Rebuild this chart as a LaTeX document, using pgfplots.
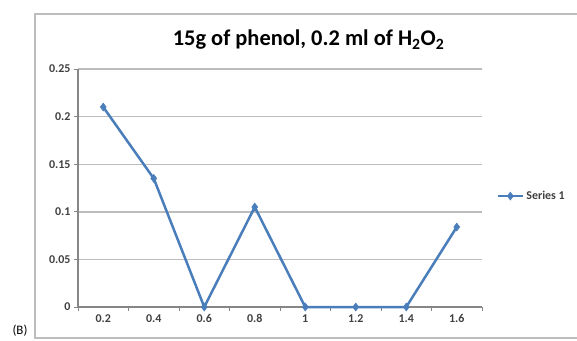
\documentclass[border=0pt]{standalone}
\usepackage{pgfplots}
\pgfplotsset{compat=1.18}
\usepackage{fontspec}
\setmainfont{Carlito}
\definecolor{serblue}{HTML}{4A7EBB}
\definecolor{gridgray}{HTML}{BDBDBD}
\definecolor{axgray}{HTML}{868686}
\begin{document}
\begin{tikzpicture}[x=1bp,y=1bp]
\useasboundingbox (0,0) rectangle (577,340);
\draw[gridgray, line width=1.4bp] (578,326) -- (35,326) -- (35,2) -- (578,2);
\node[font=\fontsize{13}{15}\selectfont] at (20,9) {(B)};
\node[font=\fontsize{22.5}{26}\selectfont\bfseries] at (308.5,300) {15g of phenol, 0.2 ml of H\textsubscript{2}O\textsubscript{2}};
\begin{axis}[
 at={(78bp,33bp)}, anchor=south west,
 width=404bp, height=238bp, scale only axis,
 xmin=-0.5, xmax=7.5, ymin=0, ymax=0.25,
 clip=false,
 axis lines=left, axis line style={-, axgray, line width=1.1bp},
 xtick={0,...,7}, xticklabels={0.2,0.4,0.6,0.8,1,1.2,1.4,1.6},
 major x tick style={draw=none},
 minor xtick={-0.5,0.5,...,7.5},
 minor tick length=4bp, major tick length=4bp,
 tick align=outside,
 tick style={axgray, line width=0.9bp},
 ytick={0,0.05,0.1,0.15,0.2,0.25},
 yticklabels={0,0.05,0.1,0.15,0.2,0.25},
 ymajorgrids, major grid style={gridgray, line width=1.4bp},
 tick label style={font=\fontsize{12}{14}\selectfont\bfseries, text=black!75},
 legend style={at={(1.035,0.466)}, anchor=west, draw=none, fill=none,
   font=\fontsize{12}{14}\selectfont\bfseries, text=black!75, inner sep=0pt},
 legend cell align=left,
 legend image code/.code={\draw[mark repeat=2,mark phase=2] plot coordinates {(0cm,0cm) (0.45cm,0cm) (0.9cm,0cm)};},
]
\addplot[serblue, line width=2.5bp, mark=diamond*, mark size=4bp, mark options={fill=serblue, line width=0.5bp}]
 coordinates {(0,0.21)(1,0.135)(2,0)(3,0.105)(4,0)(5,0)(6,0)(7,0.084)};
\addlegendentry{Series 1}
\end{axis}
\end{tikzpicture}
\end{document}
